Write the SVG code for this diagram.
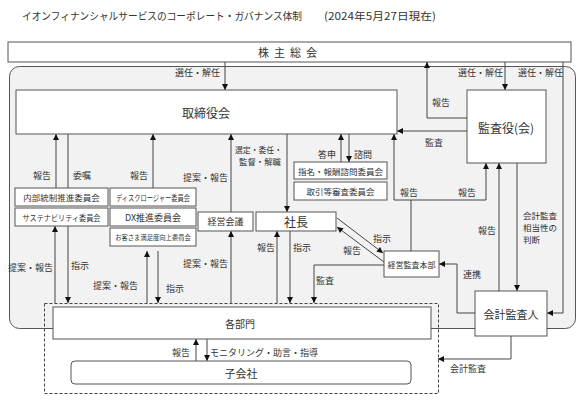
<svg xmlns="http://www.w3.org/2000/svg" width="582" height="401" viewBox="0 0 582 401">
<style>
text{font-family:"Noto Sans CJK JP","Noto Sans CJK SC",sans-serif;fill:#333;}
.b{fill:#fff;stroke:#555;stroke-width:1;}
.l{font-size:9px;dominant-baseline:central;}
.s{font-size:8.5px;dominant-baseline:central;}
.c{text-anchor:middle;dominant-baseline:central;}
.cn{fill:none;stroke:#444;stroke-width:1;}
</style>
<defs>
<marker id="a" viewBox="0 0 10 10" refX="10" refY="5" markerWidth="7" markerHeight="6" markerUnits="userSpaceOnUse" orient="auto-start-reverse"><path d="M0,0 L10,5 L0,10 z" fill="#111"/></marker>
</defs>
<rect width="582" height="401" fill="#fff"/>
<g id="title">
<text x="22" y="15" font-size="10.5" dominant-baseline="central" textLength="280" lengthAdjust="spacingAndGlyphs">イオンフィナンシャルサービスのコーポレート・ガバナンス体制</text>
<text x="324" y="15" font-size="10.5" dominant-baseline="central" textLength="112" lengthAdjust="spacingAndGlyphs">(2024年5月27日現在)</text>
</g>
<g id="shareholders"><rect class="b" x="8" y="42" width="563" height="20"/><text class="c" x="290" y="52" font-size="11" letter-spacing="5">株主総会</text></g>
<rect id="company" x="9.5" y="66.5" width="566" height="262" rx="10" fill="#f2f2f2" stroke="#555"/>
<rect id="group" x="44.5" y="303.5" width="394" height="90" fill="none" stroke="#444" stroke-dasharray="3,2"/>
<g id="connectors" class="cn">
<path class="cn" d="M225,62V90" marker-end="url(#a)"/>
<path class="cn" d="M467,118H427V62" marker-end="url(#a)"/>
<path class="cn" d="M505,62V90" marker-end="url(#a)"/>
<path class="cn" d="M563,62V313H547" marker-end="url(#a)"/>
<path class="cn" d="M467,131H397" marker-end="url(#a)"/>
<path class="cn" d="M394,134V200H486V163" marker-start="url(#a)" marker-end="url(#a)"/>
<path class="cn" d="M411,251V200"/>
<path class="cn" d="M499,291V163" marker-end="url(#a)"/>
<path class="cn" d="M517,163V291" marker-end="url(#a)"/>
<path class="cn" d="M475,313H457V264H439" marker-end="url(#a)"/>
<path class="cn" d="M511,336V359H438" marker-end="url(#a)"/>
<path class="cn" d="M287,134V212" marker-end="url(#a)"/>
<path class="cn" d="M341,162V134" marker-end="url(#a)"/>
<path class="cn" d="M349,134V162" marker-end="url(#a)"/>
<path class="cn" d="M231,212V134" marker-end="url(#a)"/>
<path class="cn" d="M231,303V231" marker-end="url(#a)"/>
<path class="cn" d="M337,218L383,253" marker-end="url(#a)"/>
<path class="cn" d="M384,262L337,227" marker-end="url(#a)"/>
<path class="cn" d="M277,303V231" marker-end="url(#a)"/>
<path class="cn" d="M290,231V303" marker-end="url(#a)"/>
<path class="cn" d="M384,265H314V303" marker-end="url(#a)"/>
<path class="cn" d="M56,188V134" marker-end="url(#a)"/>
<path class="cn" d="M68,134V188"/>
<path class="cn" d="M153,188V134" marker-end="url(#a)"/>
<path class="cn" d="M55,303V226" marker-end="url(#a)"/>
<path class="cn" d="M68,226V303" marker-end="url(#a)"/>
<path class="cn" d="M147,303V251" marker-end="url(#a)"/>
<path class="cn" d="M158,251V303" marker-end="url(#a)"/>
<path class="cn" d="M196,361V339" marker-end="url(#a)"/>
<path class="cn" d="M207,339V361" marker-end="url(#a)"/>
</g>
<g id="labels">
<text class="l" x="175" y="72">選任・解任</text>
<text class="l" x="458" y="72">選任・解任</text>
<text class="l" x="518" y="72">選任・解任</text>
<text class="l" x="432" y="102">報告</text>
<text class="l" x="425" y="142">監査</text>
<text class="l" x="33" y="175">報告</text>
<text class="l" x="73" y="175">委嘱</text>
<text class="l" x="130" y="175">報告</text>
<text class="l" x="183" y="177">提案・報告</text>
<text class="s" x="235" y="149" textLength="47" lengthAdjust="spacingAndGlyphs">選定・委任・</text>
<text class="s" x="239" y="161" textLength="42" lengthAdjust="spacingAndGlyphs">監督・解職</text>
<text class="l" x="318" y="154">答申</text>
<text class="l" x="354" y="154">諮問</text>
<text class="l" x="400" y="192">報告</text>
<text class="l" x="458" y="192">報告</text>
<text class="l" x="478" y="230">報告</text>
<text class="s" x="523" y="215">会計監査</text>
<text class="s" x="523" y="227">相当性の</text>
<text class="s" x="523" y="239">判断</text>
<text class="l" x="373" y="238">指示</text>
<text class="l" x="343" y="250">報告</text>
<text class="l" x="463" y="274">連携</text>
<text class="l" x="257" y="247">報告</text>
<text class="l" x="293" y="247">指示</text>
<text class="l" x="316" y="280">監査</text>
<text class="l" x="8" y="267">提案・報告</text>
<text class="l" x="71" y="265">指示</text>
<text class="l" x="93" y="285">提案・報告</text>
<text class="l" x="166" y="288">指示</text>
<text class="l" x="183" y="263">提案・報告</text>
<text class="l" x="172" y="352">報告</text>
<text class="l" x="210" y="352">モニタリング・助言・指導</text>
<text class="l" x="450" y="368">会計監査</text>
</g>
<g id="board"><rect class="b" x="16" y="90" width="381" height="44"/><text class="c" x="206" y="112" font-size="12">取締役会</text></g>
<g id="auditors"><rect class="b" x="467" y="90" width="79" height="73"/><text class="c" x="506" y="127" font-size="12">監査役(会)</text></g>
<g id="nomination"><rect class="b" x="294" y="162" width="93" height="17"/><text class="c" x="340.5" y="170.5" font-size="8.5">指名・報酬諮問委員会</text></g>
<g id="transaction"><rect class="b" x="294" y="182" width="93" height="18"/><text class="c" x="340.5" y="191" font-size="8.5">取引等審査委員会</text></g>
<g id="internal"><rect class="b" x="15" y="188" width="93" height="18"/><text class="c" x="61.5" y="197" font-size="8.5">内部統制推進委員会</text></g>
<g id="sustain"><rect class="b" x="15" y="208" width="93" height="18"/><text class="c" x="61.5" y="217" font-size="8" textLength="78" lengthAdjust="spacingAndGlyphs">サステナビリティ委員会</text></g>
<g id="disclosure"><rect class="b" x="110" y="188" width="86" height="18"/><text class="c" x="153" y="197" font-size="8" textLength="74" lengthAdjust="spacingAndGlyphs">ディスクロージャー委員会</text></g>
<g id="dx"><rect class="b" x="110" y="208" width="86" height="18"/><text class="c" x="153" y="217" font-size="9">DX推進委員会</text></g>
<g id="cs"><rect class="b" x="110" y="228" width="86" height="18"/><text class="c" x="153" y="237" font-size="6.3">お客さま満足度向上委員会</text></g>
<g id="mgmt"><rect class="b" x="198" y="212" width="55" height="19"/><text class="c" x="225.5" y="221.5" font-size="9">経営会議</text></g>
<g id="president"><rect class="b" x="256" y="212" width="80" height="19"/><text class="c" x="296" y="221.5" font-size="12">社長</text></g>
<g id="audit-dept"><rect class="b" x="384" y="251" width="55" height="26"/><text class="c" x="411.5" y="264" font-size="8">経営監査本部</text></g>
<g id="accountant"><rect class="b" x="475" y="291" width="72" height="45"/><text class="c" x="511" y="313.5" font-size="11">会計監査人</text></g>
<g id="divisions"><rect class="b" x="53" y="307" width="378" height="32"/><text class="c" x="240" y="323" font-size="10">各部門</text></g>
<g id="subsidiaries"><rect class="b" x="71" y="361" width="340" height="23" rx="4"/><text class="c" x="241" y="372.5" font-size="11">子会社</text></g>
</svg>
